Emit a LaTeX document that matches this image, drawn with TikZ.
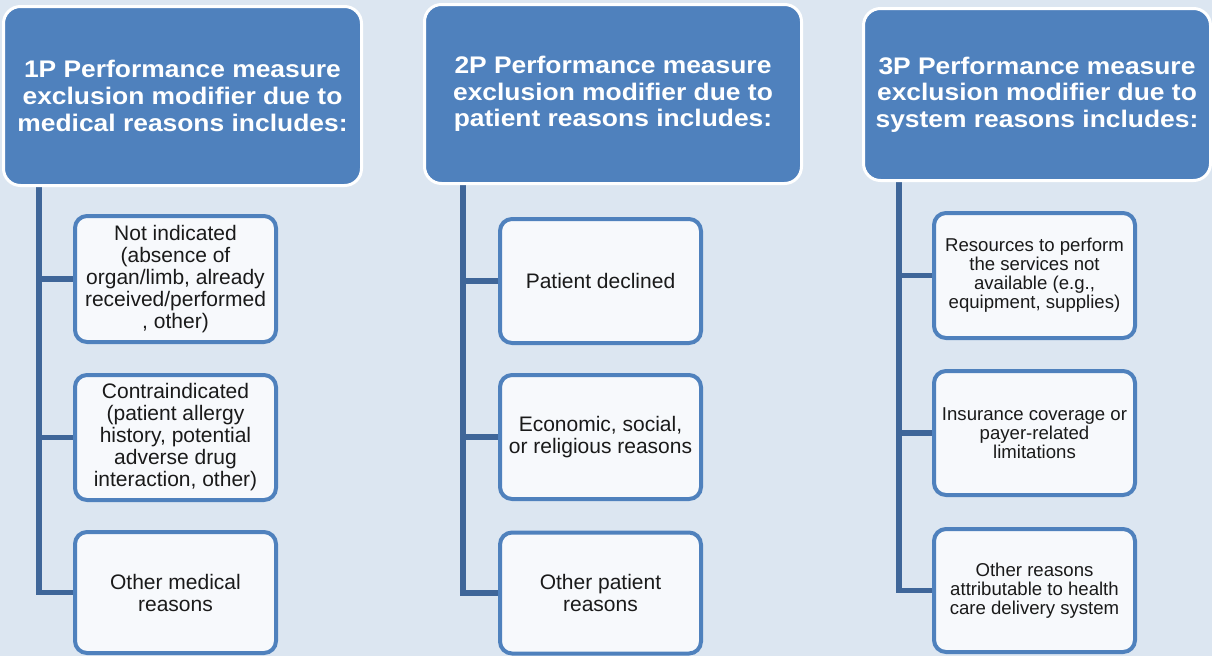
\documentclass[tikz,border=0pt]{standalone}
\usepackage{fontspec}
\setmainfont{Liberation Sans}
\newfontfamily\headfont[FakeStretch=1.1]{Liberation Sans}
\usetikzlibrary{backgrounds}
\definecolor{bgblue}{HTML}{DCE6F1}
\definecolor{headblue}{HTML}{4F81BD}
\definecolor{connblue}{HTML}{3F6699}
\definecolor{boxfill}{HTML}{F7F9FC}
\definecolor{txt}{HTML}{1A1A1A}
\tikzset{
  head/.style={draw=white, line width=3pt, fill=headblue, rounded corners=17pt,
    text=white, align=center, inner sep=0pt,
    font=\headfont\bfseries\fontsize{24}{26.7}\selectfont},
  item/.style={draw=headblue, line width=4pt, fill=boxfill, rounded corners=12pt,
    text=txt, align=center, inner sep=0pt, minimum width=201pt,
    font=\fontsize{21}{22}\selectfont},
  itemsmall/.style={item, font=\fontsize{18.6}{19}\selectfont},
  conn/.style={draw=connblue, line width=5.5pt}
}
\begin{document}
\begin{tikzpicture}[x=1pt,y=-1pt]
\useasboundingbox (0,0) rectangle (1212,656);
% headers
\node[head, minimum width=358pt, minimum height=179pt] (h1) at (182.5,96)
  {1P Performance measure\\exclusion modifier due to\\medical reasons includes:};
\node[head, minimum width=377pt, minimum height=179pt] (h2) at (613,94)
  {2P Performance measure\\exclusion modifier due to\\patient reasons includes:};
\node[head, minimum width=347pt, minimum height=172pt] (h3) at (1037,94.5)
  {3P Performance measure\\exclusion modifier due to\\system reasons includes:};
% column 1
\node[item, minimum height=126pt] (a1) at (175.5,279)
  {Not indicated\\(absence of\\organ/limb, already\\received/performed\\, other)};
\node[item, minimum height=125pt] (a2) at (175.5,437.5)
  {Contraindicated\\(patient allergy\\history, potential\\adverse drug\\interaction, other)};
\node[item, minimum height=121pt] (a3) at (175.5,592.5)
  {Other medical\\reasons};
% column 2
\node[item, minimum height=124pt] (b1) at (600.5,281)
  {Patient declined};
\node[item, minimum height=124pt] (b2) at (600.5,437)
  {Economic, social,\\or religious reasons};
\node[item, minimum height=121pt] (b3) at (600.5,593)
  {Other patient\\reasons};
% column 3
\node[itemsmall, minimum height=125pt] (c1) at (1034.5,275.5)
  {Resources to perform\\the services not\\available (e.g.,\\equipment, supplies)};
\node[itemsmall, minimum height=124pt] (c2) at (1034.5,433)
  {Insurance coverage or\\payer-related\\limitations};
\node[itemsmall, minimum height=123pt] (c3) at (1034.5,590.5)
  {Other reasons\\attributable to health\\care delivery system};
% trunk coordinates
\coordinate (t1) at (39,186);
\coordinate (t2) at (463,184);
\coordinate (t3) at (899,181);
\begin{scope}[on background layer]
  \fill[bgblue] (0,0) rectangle (1212,656);
  \draw[conn] (t1) |- (a3.west);
  \draw[conn] (t1 |- a1.west) -- (a1.west);
  \draw[conn] (t1 |- a2.west) -- (a2.west);
  \draw[conn] (t2) |- (b3.west);
  \draw[conn] (t2 |- b1.west) -- (b1.west);
  \draw[conn] (t2 |- b2.west) -- (b2.west);
  \draw[conn] (t3) |- (c3.west);
  \draw[conn] (t3 |- c1.west) -- (c1.west);
  \draw[conn] (t3 |- c2.west) -- (c2.west);
\end{scope}
\end{tikzpicture}
\end{document}
